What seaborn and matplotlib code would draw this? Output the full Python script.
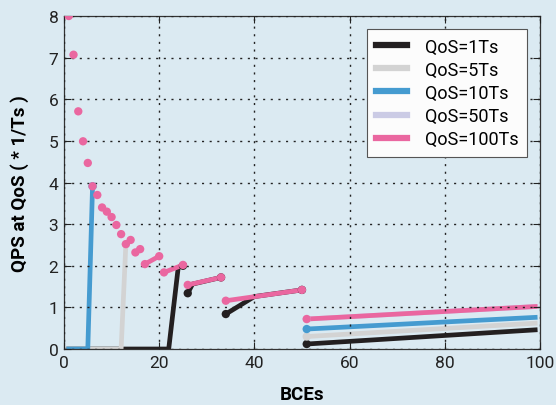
import pandas as pd
import matplotlib.pyplot as plt
import seaborn as sns

qos_levels = ['QoS=1Ts', 'QoS=5Ts', 'QoS=10Ts', 'QoS=50Ts', 'QoS=100Ts']
qos_colors = ['#231f20', '#d3d3d3', '#459bd0', '#cbcbe5', '#ea67a0']

# each curve is a list of segments (BCEs, QPS); segments are not joined
qos1_x = [[1, 22, 24, 25], [26, 27, 33], [34, 40, 50], [51, 99]]
qos1_y = [[0, 0, 1.96, 2.0], [1.34, 1.56, 1.72], [0.84, 1.26, 1.42], [0.12, 0.46]]
qos5_x = [[1, 12, 13], [51, 99]]
qos5_y = [[0, 0, 2.52], [0.30, 0.62]]
qos10_x = [[1, 5, 6], [51, 99]]
qos10_y = [[0, 0, 3.91], [0.48, 0.76]]
qos50_x = [[51, 99]]
qos50_y = [[0.72, 1.02]]

# QoS=100Ts: single points for small BCE counts, then segments
qos100_pts_x = [1, 2, 3, 4, 5, 6, 7, 8, 9, 10, 11, 12, 13, 14, 15, 16]
qos100_pts_y = [8.0, 7.07, 5.71, 4.99, 4.47, 3.91, 3.70, 3.40, 3.30, 3.17,
                2.98, 2.76, 2.52, 2.62, 2.32, 2.40]
qos100_x = [[17, 20], [21, 25], [26, 33], [34, 50], [51, 99]]
qos100_y = [[2.04, 2.23], [1.84, 2.02], [1.54, 1.72], [1.16, 1.42], [0.72, 1.02]]

last_bce = 99

curves = {
    'QoS=1Ts': (qos1_x, qos1_y),
    'QoS=5Ts': (qos5_x, qos5_y),
    'QoS=10Ts': (qos10_x, qos10_y),
    'QoS=50Ts': (qos50_x, qos50_y),
    'QoS=100Ts': ([[x] for x in qos100_pts_x] + qos100_x,
                  [[y] for y in qos100_pts_y] + qos100_y),
}

rows = []
dots = []
for name, (xs, ys) in curves.items():
    for i, (sx, sy) in enumerate(zip(xs, ys)):
        for x, y in zip(sx, sy):
            rows.append({'BCEs': x, 'QPS': y, 'QoS': name, 'seg': i})
        # dots on segment ends (not on the zero line, not at the right edge)
        for x, y in {(sx[0], sy[0]), (sx[-1], sy[-1])}:
            if y > 0 and x < last_bce:
                dots.append({'BCEs': x, 'QPS': y, 'QoS': name})
df = pd.DataFrame(rows)
df_dots = pd.DataFrame(dots)

bg = '#dbeaf2'
plt.rcParams['font.family'] = ['Roboto', 'DejaVu Sans']

fig = plt.figure(figsize=(5.56, 4.06), dpi=100, facecolor=bg)
ax = fig.add_axes([0.1151, 0.1379, 0.856, 0.8202])
ax.set_facecolor(bg)

pal = dict(zip(qos_levels, qos_colors))
for name in qos_levels:
    sub = df[df['QoS'] == name]
    sns.lineplot(data=sub, x='BCEs', y='QPS', units='seg', estimator=None,
                 color=pal[name], lw=3.4, sort=False, ax=ax, label=name)
for name in qos_levels:
    sub = df_dots[df_dots['QoS'] == name]
    if len(sub):
        sns.scatterplot(data=sub, x='BCEs', y='QPS', color=pal[name], s=36,
                        edgecolor='none', zorder=3, ax=ax, legend=False)

ax.set_xlim(0, 100)
ax.set_ylim(0, 8)
ax.set_xticks(range(0, 101, 20))
ax.set_yticks(range(0, 9))
ax.tick_params(direction='in', top=True, right=True, length=5, width=0.8,
               labelsize=12.5, colors='#222222', pad=4)
for s in ax.spines.values():
    s.set_color('#333333')
    s.set_linewidth(0.9)
ax.set_axisbelow(False)
ax.grid(True, color='#222222', linestyle=(0, (1.5, 4)), linewidth=1.0)

ax.set_xlabel('BCEs', fontsize=13.5, fontweight='bold', labelpad=11)
ax.set_ylabel('QPS at QoS ( * 1/Ts )', fontsize=13.5, fontweight='bold', labelpad=14)

# one legend entry per QoS level
handles, labels = ax.get_legend_handles_labels()
uniq = dict(zip(labels, handles))
leg = ax.legend([uniq[n] for n in qos_levels], qos_levels, loc='upper right',
                fontsize=13, frameon=True, fancybox=False,
                edgecolor='#555555', facecolor='#fcfcfc', framealpha=1,
                handlelength=1.7, borderpad=0.5, labelspacing=0.28,
                handletextpad=1.0, borderaxespad=0.7)
for h in leg.get_lines():
    h.set_linewidth(4.5)
leg.get_frame().set_linewidth(0.8)

fig.savefig('out.png', dpi=100, facecolor=bg)
